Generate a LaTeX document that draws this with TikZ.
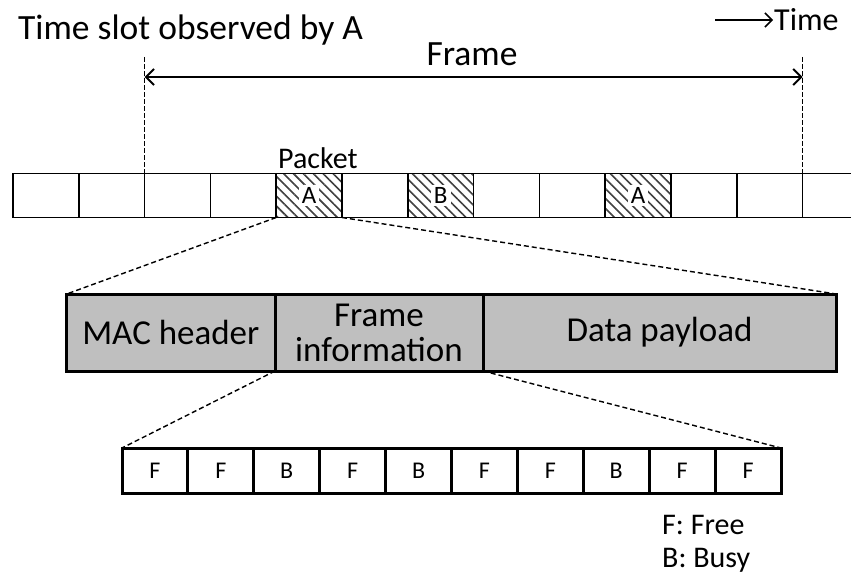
\documentclass[tikz,border=0pt]{standalone}
\usepackage{fontspec}
\setmainfont{Carlito}
\usetikzlibrary{arrows.meta,patterns.meta}

\begin{document}
\begin{tikzpicture}[x=1pt,y=-1pt,
  bigtext/.style={font=\fontsize{35.5}{40}\selectfont, inner sep=0pt},
  slot/.style={draw, line width=1.5pt, minimum width=65.8pt, minimum height=44pt,
               inner sep=0pt, outer sep=0pt, anchor=north west},
  busy/.style={pattern={Lines[angle=-45,distance=7pt,line width=1.6pt]}, pattern color=black!75},
  tag/.style={fill=white, inner xsep=3pt, inner ysep=2pt, font=\fontsize{25}{27}\selectfont},
  field/.style={draw, line width=3pt, fill=black!25, minimum height=77pt,
                inner sep=0pt, outer sep=0pt, anchor=north west, align=center,
                font=\fontsize{35}{35}\selectfont},
  cell/.style={draw, line width=3pt, minimum width=65.9pt, minimum height=45pt,
               inner sep=0pt, outer sep=0pt, anchor=north west,
               font=\fontsize{24}{26}\selectfont},
  legend/.style={font=\fontsize{30}{34}\selectfont, anchor=base west, inner sep=0pt},
  link/.style={dashed, dash pattern=on 5pt off 3pt, line width=1.4pt},
  guide/.style={dashed, dash pattern=on 5pt off 2pt, line width=1.2pt}
]
\useasboundingbox (0,0) rectangle (851,583);

% slot row
\foreach \i in {1,...,12}{
  \node[slot] (s\i) at ({13+65.8*(\i-1)},173.5) {};
}
\draw[line width=1.5pt] (s12.north east) -- (851,173.5);
\draw[line width=1.5pt] (s12.south east) -- (851,217.5);

% busy slots
\foreach \s/\l in {5/A,7/B,10/A}{
  \path[busy] (s\s.north west) rectangle (s\s.south east);
  \draw[line width=1.5pt] (s\s.north west) rectangle (s\s.south east);
  \node[tag] at (s\s.center) {\l};
}
\node[font=\fontsize{30}{34}\selectfont, anchor=base west, inner sep=0pt] (packet)
  at (278,168) {Packet};

% frame marker
\coordinate (fl) at (s3.north west |- 0,57);
\coordinate (fr) at (s12.north east |- 0,57);
\draw[guide] (fl) -- (s3.north west);
\draw[guide] (fr) -- (s12.north east);
\coordinate (al) at (fl |- 0,77);
\coordinate (ar) at (fr |- 0,77);
\draw[line width=2.5pt, {Straight Barb[length=8pt,width=16pt,line width=2pt]}-{Straight Barb[length=8pt,width=16pt,line width=2pt]}]
  (al) -- (ar);
\node[bigtext, anchor=base] (frame) at (472,66) {Frame};

\node[bigtext, anchor=base west] (observed) at (18,40) {Time slot observed by A};

\node[font=\fontsize{32}{36}\selectfont, anchor=base west, inner sep=0pt] (time) at (774,31) {Time};
\coordinate (tstart) at (715,20);
\draw[line width=1.5pt, -{Straight Barb[length=7pt,width=14pt,line width=1.5pt]}] (tstart) -- ([xshift=-1pt]time.west |- tstart);

% packet fields
\node[field, minimum width=208.3pt] (mac) at (66.7,294) {MAC header};
\node[field, minimum width=208pt] (finfo) at (275,294) {Frame\\information};
\node[field, minimum width=353pt] (data) at (483,294) {Data payload};

\draw[link] (s5.south west) -- (mac.north west);
\draw[link] (s5.south east) -- (data.north east);

% frame information slots
\foreach \l [count=\i] in {F,F,B,F,B,F,F,B,F,F}{
  \node[cell] (c\i) at ({122+65.9*(\i-1)},448) {\l};
}
\draw[link] (mac.south east) -- (c1.north west);
\draw[link] (data.south west) -- (c10.north east);

% legend
\node[legend] (lfree) at (662,534) {F: Free};
\node[legend] (lbusy) at (662,567) {B: Busy};
\end{tikzpicture}
\end{document}
